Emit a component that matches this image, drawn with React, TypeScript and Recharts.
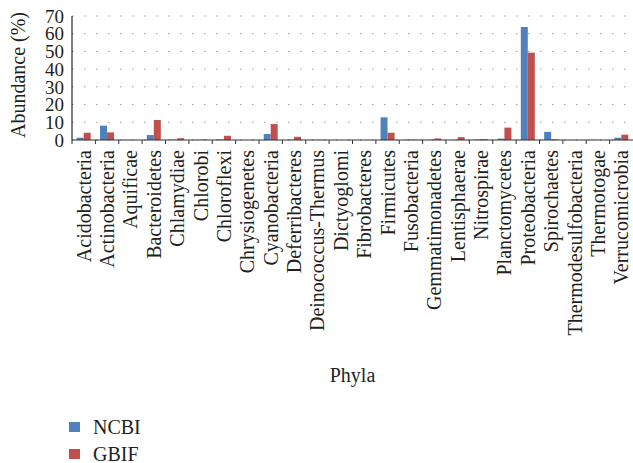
import React from 'react';
import { BarChart, Bar, XAxis, YAxis, CartesianGrid } from 'recharts';

const phyla = [
  'Acidobacteria', 'Actinobacteria', 'Aquificae', 'Bacteroidetes', 'Chlamydiae', 'Chlorobi',
  'Chloroflexi', 'Chrysiogenetes', 'Cyanobacteria', 'Deferribacteres', 'Deinococcus-Thermus',
  'Dictyoglomi', 'Fibrobacteres', 'Firmicutes', 'Fusobacteria', 'Gemmatimonadetes',
  'Lentisphaerae', 'Nitrospirae', 'Planctomycetes', 'Proteobacteria', 'Spirochaetes',
  'Thermodesulfobacteria', 'Thermotogae', 'Verrucomicrobia',
];
const ncbi = [1.3, 8.1, 0.1, 2.8, 0.2, 0.1, 0.3, 0, 3.4, 0.2, 0.1, 0, 0, 12.8, 0.2, 0.2, 0.1, 0.3, 0.8, 63.8, 4.6, 0, 0.1, 1.3];
const gbif = [4.1, 4.3, 0, 11.3, 1.0, 0.2, 2.4, 0, 9.0, 1.8, 0.1, 0, 0, 4.1, 0.2, 0.9, 1.6, 0.5, 7.0, 49.3, 0.4, 0, 0, 3.0];
const yTicks = [0, 10, 20, 30, 40, 50, 60, 70];

const data = phyla.map((p, i) => ({ name: p, NCBI: ncbi[i], GBIF: gbif[i] }));

const FONT = '"Liberation Serif", "Times New Roman", serif';
const W = 633;
const H = 463;
const LEFT = 72;
const PLOT_W = W - LEFT;
const BAND = PLOT_W / phyla.length;
const TICK_MARGIN = 10;

const XTick = (props: any) => {
  const { x, y, payload } = props;
  const axisY = y - TICK_MARGIN;
  return (
    <g>
      <line x1={x - BAND / 2} x2={x - BAND / 2} y1={axisY} y2={axisY + 4} stroke="#333" strokeWidth={1} />
      <text
        x={x}
        y={y}
        transform={`rotate(-90, ${x}, ${y})`}
        textAnchor="end"
        dominantBaseline="central"
        fontFamily={FONT}
        fontSize={20}
        fill="#231F20"
      >
        {payload.value}
      </text>
    </g>
  );
};

const YTitle = () => (
  <text
    x={18}
    y={75}
    transform="rotate(-90, 18, 75)"
    textAnchor="middle"
    dominantBaseline="central"
    fontFamily={FONT}
    fontSize={20}
    fill="#231F20"
  >
    Abundance (%)
  </text>
);

export default function App() {
  return (
    <div style={{ position: 'absolute', left: 0, top: 0, width: W, height: H, background: '#fff', overflow: 'hidden' }}>
      <BarChart
        width={W}
        height={H}
        data={data}
        margin={{ top: 16, right: 0, bottom: 73, left: 0 }}
        barCategoryGap="20%"
        barGap={0}
      >
        <CartesianGrid vertical={false} stroke="#9a9a9a" strokeDasharray="1.5 10.5" />
        <XAxis
          dataKey="name"
          interval={0}
          height={250}
          tickSize={0}
          tickMargin={TICK_MARGIN}
          tickLine={false}
          stroke="#333"
          tick={<XTick />}
          label={{ value: 'Phyla', position: 'insideBottom', offset: 8, fontFamily: FONT, fontSize: 20, fill: '#231F20' }}
        />
        <YAxis
          width={LEFT}
          domain={[0, 70]}
          ticks={yTicks}
          interval={0}
          tickSize={0}
          tickMargin={8}
          tickLine={false}
          stroke="#000"
          tick={{ fontFamily: FONT, fontSize: 19, fill: '#231F20' }}
          label={<YTitle />}
        />
        <Bar dataKey="NCBI" fill="#4F81BD" isAnimationActive={false} />
        <Bar dataKey="GBIF" fill="#C0504D" isAnimationActive={false} />
      </BarChart>
      <div style={{ position: 'absolute', left: 69, top: 418, width: 120, fontFamily: FONT, fontSize: 20, color: '#231F20', lineHeight: '18px', whiteSpace: 'nowrap' }}>
        <div style={{ display: 'flex', alignItems: 'center', height: 18, marginBottom: 9 }}>
          <span style={{ display: 'inline-block', width: 11, height: 10, background: '#4F81BD', marginRight: 13 }} />
          <span>NCBI</span>
        </div>
        <div style={{ display: 'flex', alignItems: 'center', height: 18 }}>
          <span style={{ display: 'inline-block', width: 11, height: 10, background: '#C0504D', marginRight: 13 }} />
          <span>GBIF</span>
        </div>
      </div>
    </div>
  );
}
